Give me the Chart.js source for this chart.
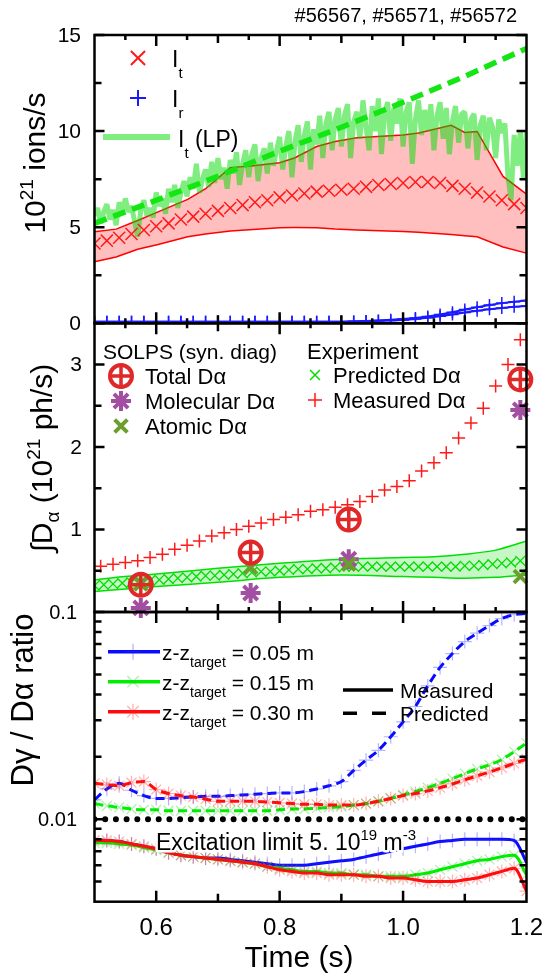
<!DOCTYPE html>
<html>
<head>
<meta charset="utf-8">
<script src="https://cdn.jsdelivr.net/npm/chart.js@4.4.1/dist/chart.umd.min.js"></script>
<style>
  html, body { margin: 0; padding: 0; background: #fff; }
  #wrap { position: relative; width: 548px; height: 980px; overflow: hidden; }
  canvas { position: absolute; left: 0; }
</style>
</head>
<body>
<div id="wrap">
  <canvas id="ions" width="548" height="340" style="top:0px"></canvas>
  <canvas id="dalpha" width="548" height="330" style="top:300px"></canvas>
  <canvas id="ratio" width="548" height="390" style="top:590px"></canvas>
</div>
<script>
// ---------- data ----------
const shots = '#56567, #56571, #56572';

// top panel: ion fluxes (10^21 ions/s)
const fluxTimes = [0.50, 0.52, 0.54, 0.56, 0.58, 0.60, 0.62, 0.64, 0.66, 0.68, 0.70, 0.72, 0.74, 0.76, 0.78, 0.80, 0.82, 0.84,
  0.86, 0.88, 0.90, 0.92, 0.94, 0.96, 0.98, 1.00, 1.02, 1.04, 1.06, 1.08, 1.10, 1.12, 1.14, 1.16, 1.18, 1.20];
const itValues = [4.15, 4.3, 4.45, 4.65, 4.85, 5.05, 5.2, 5.4, 5.55, 5.7, 5.85, 6.0, 6.15, 6.3, 6.4, 6.55, 6.65, 6.75,
  6.85, 6.9, 6.95, 7.0, 7.1, 7.2, 7.25, 7.3, 7.35, 7.35, 7.3, 7.15, 7.0, 6.8, 6.6, 6.4, 6.2, 6.0];
const irLow = [0.08, 0.08, 0.08, 0.08, 0.08, 0.08, 0.08, 0.08, 0.08, 0.08, 0.08, 0.08, 0.08, 0.08, 0.08, 0.08, 0.08, 0.08,
  0.08, 0.08, 0.08, 0.09, 0.11, 0.13, 0.15, 0.17, 0.22, 0.29, 0.37, 0.46, 0.56, 0.65, 0.73, 0.80, 0.86, 0.90];
const irHigh = [0.08, 0.08, 0.08, 0.08, 0.08, 0.08, 0.08, 0.08, 0.08, 0.08, 0.08, 0.08, 0.08, 0.08, 0.08, 0.08, 0.08, 0.08,
  0.08, 0.08, 0.08, 0.10, 0.12, 0.15, 0.18, 0.22, 0.28, 0.36, 0.46, 0.57, 0.72, 0.84, 0.95, 1.05, 1.12, 1.18];
const itBandTimes = [0.5, 0.535, 0.57, 0.603, 0.651, 0.68, 0.72, 0.757, 0.8, 0.824, 0.86, 0.89, 0.925, 1.0, 1.025, 1.078, 1.1, 1.12, 1.162, 1.2];
const itUpper = [4.76, 4.9, 5.35, 5.8, 6.45, 7.0, 8.1, 8.2, 8.35, 8.6, 9.2, 9.46, 9.65, 9.8, 9.9, 10.3, 9.93, 9.98, 7.64, 6.72];
const itLower = [3.2, 3.45, 3.85, 4.1, 4.5, 4.65, 4.8, 4.88, 4.97, 4.98, 4.97, 4.9, 4.86, 4.78, 4.74, 4.62, 4.55, 4.5, 3.97, 3.65];
const lpTimes = [
  0.500, 0.505, 0.510, 0.515, 0.520, 0.525, 0.530, 0.535, 0.540, 0.545,
  0.550, 0.555, 0.560, 0.565, 0.570, 0.575, 0.580, 0.585, 0.590, 0.595,
  0.600, 0.605, 0.610, 0.615, 0.620, 0.625, 0.630, 0.635, 0.640, 0.645,
  0.650, 0.655, 0.660, 0.665, 0.670, 0.675, 0.680, 0.685, 0.690, 0.695,
  0.700, 0.705, 0.710, 0.715, 0.720, 0.725, 0.730, 0.735, 0.740, 0.745,
  0.750, 0.755, 0.760, 0.765, 0.770, 0.775, 0.780, 0.785, 0.790, 0.795,
  0.800, 0.805, 0.810, 0.815, 0.820, 0.825, 0.830, 0.835, 0.840, 0.845,
  0.850, 0.855, 0.860, 0.865, 0.870, 0.875, 0.880, 0.885, 0.890, 0.895,
  0.900, 0.905, 0.910, 0.915, 0.920, 0.925, 0.930, 0.935, 0.940, 0.945,
  0.950, 0.955, 0.960, 0.965, 0.970, 0.975, 0.980, 0.985, 0.990, 0.995,
  1.000, 1.005, 1.010, 1.015, 1.020, 1.025, 1.030, 1.035, 1.040, 1.045,
  1.050, 1.055, 1.060, 1.065, 1.070, 1.075, 1.080, 1.085, 1.090, 1.095,
  1.100, 1.105, 1.110, 1.115, 1.120, 1.125, 1.130, 1.135, 1.140, 1.145,
  1.150, 1.155, 1.160, 1.165, 1.170, 1.175, 1.180, 1.185, 1.190, 1.195,
  1.200];
const lpValues = [
  5.6, 6.0, 5.2, 5.8, 6.2, 5.4, 5.9, 5.1, 6.3, 5.7,
  6.5, 5.8, 6.1, 5.3, 4.5, 5.9, 6.4, 5.6, 6.0, 5.5,
  6.8, 6.1, 6.5, 5.7, 7.0, 6.3, 7.2, 6.0, 6.8, 7.4,
  6.6, 7.6, 7.0, 8.3, 6.8, 7.5, 8.0, 7.1, 8.4, 7.3,
  8.6, 7.5, 8.1, 7.0, 8.5, 7.8, 8.9, 7.2, 8.3, 9.0,
  7.6, 8.8, 9.3, 7.4, 8.6, 9.1, 7.8, 9.4, 8.2, 9.0,
  9.7, 8.0, 9.2, 10.0, 7.6, 9.5, 10.3, 8.4, 9.8, 10.5,
  8.0, 10.1, 9.3, 10.8, 8.6, 10.4, 11.0, 9.0, 10.6, 11.2,
  9.2, 10.8, 11.4, 8.6, 10.5, 11.0, 9.6, 11.6, 10.2, 9.0,
  11.3, 10.0, 11.7, 8.8, 10.9, 11.5, 9.5, 11.2, 10.4, 11.7,
  9.2, 11.0, 11.5, 8.3, 10.6, 11.6, 9.8, 11.1, 10.0, 11.4,
  9.0, 10.8, 11.5, 9.6, 11.2, 8.8, 10.5, 11.3, 9.4, 10.9,
  11.0, 9.1, 10.6, 10.9, 8.5, 10.3, 10.8, 9.0, 10.7, 10.2,
  8.6, 10.6, 9.9, 10.4, 7.6, 6.4, 9.8, 8.2, 10.0, 7.5,
  10.0];
const trendTimes = [0.5, 0.6, 0.7, 0.8, 0.9, 1.0, 1.1, 1.2];
const trendValues = [5.2, 6.4, 7.65, 8.95, 10.2, 11.5, 12.85, 14.3];

// middle panel: integrated D-alpha (10^21 ph/s)
const measTimes = [0.51, 0.53, 0.55, 0.57, 0.59, 0.61, 0.63, 0.65, 0.67, 0.69, 0.71, 0.73, 0.75, 0.77, 0.79, 0.81, 0.83, 0.85,
  0.87, 0.89, 0.91, 0.93, 0.95, 0.97, 0.99, 1.01, 1.03, 1.05, 1.07, 1.09, 1.11, 1.13, 1.15, 1.17, 1.19];
const measValues = [0.555, 0.58, 0.60, 0.62, 0.66, 0.70, 0.76, 0.81, 0.86, 0.92, 0.96, 1.00, 1.04, 1.08, 1.12, 1.15, 1.18, 1.22,
  1.24, 1.27, 1.30, 1.34, 1.40, 1.48, 1.52, 1.59, 1.71, 1.81, 1.93, 2.11, 2.29, 2.47, 2.74, 3.00, 3.30];
const predTimes = [0.500, 0.515, 0.530, 0.545, 0.560, 0.575, 0.590, 0.605, 0.620, 0.635, 0.650, 0.665, 0.680, 0.695, 0.710, 0.725,
  0.740, 0.755, 0.770, 0.785, 0.800, 0.815, 0.830, 0.845, 0.860, 0.875, 0.890, 0.905, 0.920, 0.935, 0.950, 0.965, 0.980, 0.995,
  1.010, 1.025, 1.040, 1.055, 1.070, 1.085, 1.100, 1.115, 1.130, 1.145, 1.160, 1.175, 1.190];
const predValues = [0.32, 0.33, 0.34, 0.35, 0.36, 0.37, 0.38, 0.39, 0.40, 0.41, 0.42, 0.43, 0.44, 0.44, 0.45, 0.46,
  0.47, 0.48, 0.49, 0.49, 0.50, 0.51, 0.52, 0.52, 0.53, 0.53, 0.54, 0.55, 0.55, 0.55, 0.55, 0.55, 0.55, 0.55,
  0.55, 0.55, 0.55, 0.55, 0.55, 0.55, 0.56, 0.56, 0.57, 0.58, 0.59, 0.60, 0.62];
const predBandTimes = [0.5, 0.55, 0.6, 0.7, 0.8, 0.9, 1.0, 1.05, 1.1, 1.15, 1.2];
const predUpper = [0.39, 0.43, 0.46, 0.53, 0.59, 0.64, 0.66, 0.67, 0.70, 0.75, 0.86];
const predLower = [0.25, 0.28, 0.31, 0.36, 0.42, 0.45, 0.43, 0.42, 0.41, 0.42, 0.45];
const solpsTimes = [0.575, 0.753, 0.912, 1.19];
const totalDa = [0.33, 0.72, 1.12, 2.82];
const molecularDa = [0.05, 0.23, 0.64, 2.45];
const atomicDa = [0.34, 0.54, 0.58, 0.43];

// bottom panel: D-gamma / D-alpha ratio
const ratioTimes = fluxTimes;
const pred005 = [0.0124, 0.0140, 0.0149, 0.0138, 0.0130, 0.0126, 0.0126, 0.0127, 0.0128, 0.0129, 0.0129, 0.0130, 0.0131, 0.0132,
  0.0133, 0.0134, 0.0134, 0.0136, 0.0140, 0.0145, 0.0152, 0.0172, 0.0193, 0.0215, 0.0250, 0.0295, 0.0350, 0.0440, 0.0540,
  0.0630, 0.0720, 0.0790, 0.0860, 0.0930, 0.0970, 0.0985];
const pred015 = [0.0119, 0.0116, 0.0114, 0.0112, 0.0111, 0.0111, 0.0110, 0.0110, 0.0110, 0.0110, 0.0110, 0.0110, 0.0110, 0.0110,
  0.0110, 0.0111, 0.0112, 0.0112, 0.0113, 0.0114, 0.0115, 0.0117, 0.0119, 0.0122, 0.0126, 0.0131, 0.0136, 0.0142, 0.0149,
  0.0157, 0.0166, 0.0175, 0.0183, 0.0194, 0.0212, 0.0233];
const pred030 = [0.0149, 0.0147, 0.0145, 0.0150, 0.0152, 0.0139, 0.0133, 0.0130, 0.0128, 0.0125, 0.0122, 0.0122, 0.0122, 0.0122,
  0.0121, 0.0120, 0.0119, 0.0118, 0.0118, 0.0117, 0.0117, 0.0117, 0.0119, 0.0122, 0.0126, 0.0130, 0.0133, 0.0137, 0.0142,
  0.0148, 0.0155, 0.0162, 0.0169, 0.0177, 0.0186, 0.0195];
const meas005 = [0.0080, 0.0079, 0.0078, 0.0076, 0.0074, 0.0072, 0.0069, 0.0067, 0.0066, 0.0065, 0.0065, 0.0064, 0.0063, 0.0062,
  0.0061, 0.0060, 0.0060, 0.0060, 0.0061, 0.0062, 0.0063, 0.0064, 0.0066, 0.0068, 0.0070, 0.0072, 0.0074, 0.0076, 0.0078,
  0.0079, 0.0080, 0.0080, 0.0080, 0.0080, 0.0079, 0.0062];
const meas015 = [0.0077, 0.0077, 0.0076, 0.0075, 0.0073, 0.0071, 0.0069, 0.0067, 0.0066, 0.0065, 0.0064, 0.0063, 0.0062, 0.0061,
  0.0059, 0.0058, 0.0057, 0.0056, 0.0056, 0.0055, 0.0055, 0.0054, 0.0054, 0.0053, 0.0053, 0.0053, 0.0054, 0.0055, 0.0057,
  0.0059, 0.0061, 0.0063, 0.0064, 0.0066, 0.0067, 0.0054];
const meas030 = [0.0079, 0.0079, 0.0078, 0.0076, 0.0074, 0.0072, 0.0069, 0.0067, 0.0066, 0.0065, 0.0064, 0.0063, 0.0062, 0.0061,
  0.0059, 0.0057, 0.0056, 0.0055, 0.0055, 0.0054, 0.0054, 0.0054, 0.0053, 0.0053, 0.0052, 0.0052, 0.0051, 0.0050, 0.0050,
  0.0050, 0.0051, 0.0052, 0.0054, 0.0056, 0.0058, 0.0045];
const excitationLimit = 0.01;

// ticks
const xMajorTicks = [0.6, 0.8, 1.0];
const xMidTicks = [0.7, 0.9, 1.1];
const xHalfTicks = [0.55, 0.65, 0.75, 0.85, 0.95, 1.05, 1.15];
const xLabelValues = [0.6, 0.8, 1.0, 1.2];
const xLabelTexts = ['0.6', '0.8', '1.0', '1.2'];
const ionLabelValues = [0, 5, 10, 15];
const ionMinorTicks = [2.5, 7.5, 12.5];
const daLabelValues = [1, 2, 3];
const daMinorTicks = [0.5, 1.5, 2.5];
const ratioLabelValues = [0.01, 0.1];
const ratioLabelTexts = ['0.01', '0.1'];
const ratioMinorTicks = [0.005, 0.006, 0.007, 0.008, 0.009, 0.02, 0.03, 0.04, 0.05, 0.06, 0.07, 0.08, 0.09];

// ---------- helpers ----------
const FAMILY = "'Liberation Sans', Arial, sans-serif";
const font = (size) => size + 'px ' + FAMILY;
const pts = (xs, ys) => xs.map((x, i) => ({ x: x, y: ys[i] }));

function drawRich(ctx, parts, x, y, align, halo) {
  let w = 0;
  parts.forEach(p => { ctx.font = font(p.size); w += ctx.measureText(p.text).width; });
  const start = align === 'center' ? x - w / 2 : (align === 'right' ? x - w : x);
  ctx.textAlign = 'left';
  ctx.textBaseline = 'alphabetic';
  const pass = (fill) => {
    let cx = start;
    parts.forEach(p => {
      ctx.font = font(p.size);
      if (fill) {
        ctx.fillStyle = '#000';
        ctx.fillText(p.text, cx, y + (p.dy || 0));
      } else {
        ctx.strokeStyle = '#fff';
        ctx.lineWidth = halo;
        ctx.lineJoin = 'round';
        ctx.strokeText(p.text, cx, y + (p.dy || 0));
      }
      cx += ctx.measureText(p.text).width;
    });
  };
  if (halo) pass(false);
  pass(true);
}

function rotatedTitle(ctx, parts, x, y) {
  ctx.save();
  ctx.translate(x, y);
  ctx.rotate(-Math.PI / 2);
  drawRich(ctx, parts, 0, 0, 'center');
  ctx.restore();
}

function marker(ctx, style, x, y, r, color, lw) {
  ctx.save();
  ctx.strokeStyle = color;
  ctx.lineWidth = lw;
  ctx.beginPath();
  if (style === 'cross' || style === 'star') {
    ctx.moveTo(x - r, y); ctx.lineTo(x + r, y);
    ctx.moveTo(x, y - r); ctx.lineTo(x, y + r);
  }
  if (style === 'crossRot' || style === 'star') {
    const d = r * Math.SQRT1_2;
    ctx.moveTo(x - d, y - d); ctx.lineTo(x + d, y + d);
    ctx.moveTo(x - d, y + d); ctx.lineTo(x + d, y - d);
  }
  if (style === 'circle') ctx.arc(x, y, r, 0, Math.PI * 2);
  ctx.stroke();
  ctx.restore();
}

function drawFrame(chart, yMajor, yMinor, halfTicks) {
  const { ctx, chartArea: a } = chart;
  const xs = chart.scales.x, ys = chart.scales.y;
  ctx.save();
  ctx.strokeStyle = '#000';
  ctx.lineWidth = 2.5;
  ctx.beginPath();
  const xt = (v, len) => {
    const px = xs.getPixelForValue(v);
    ctx.moveTo(px, a.top); ctx.lineTo(px, a.top + len);
    ctx.moveTo(px, a.bottom); ctx.lineTo(px, a.bottom - len);
  };
  const yt = (v, len) => {
    const py = ys.getPixelForValue(v);
    ctx.moveTo(a.left, py); ctx.lineTo(a.left + len, py);
    ctx.moveTo(a.right, py); ctx.lineTo(a.right - len, py);
  };
  xMajorTicks.forEach(v => xt(v, 11));
  xMidTicks.forEach(v => xt(v, 8));
  if (halfTicks) xHalfTicks.forEach(v => xt(v, 5));
  yMajor.forEach(v => yt(v, 10));
  yMinor.forEach(v => yt(v, 7));
  ctx.stroke();
  ctx.strokeRect(a.left, a.top, a.right - a.left, a.bottom - a.top);
  ctx.restore();
}

function yLabels(chart, values, texts, x, size) {
  const ctx = chart.ctx, ys = chart.scales.y;
  ctx.save();
  ctx.fillStyle = '#000';
  ctx.font = font(size);
  ctx.textAlign = 'right';
  ctx.textBaseline = 'middle';
  values.forEach((v, i) => ctx.fillText(texts[i], x, ys.getPixelForValue(v) + 1));
  ctx.restore();
}

function baseOptions(padding, yScale) {
  return {
    responsive: false,
    animation: false,
    devicePixelRatio: 1,
    layout: { padding: padding },
    plugins: { legend: { display: false }, tooltip: { enabled: false } },
    scales: {
      x: { type: 'linear', min: 0.5, max: 1.2, display: false },
      y: Object.assign({ display: false }, yScale)
    }
  };
}

const PLOT_LEFT = 94.5, PLOT_RIGHT = 526.5;
const sidePad = { left: PLOT_LEFT, right: 548 - PLOT_RIGHT };

// ---------- top panel ----------
const ionsDecor = {
  id: 'ionsDecor',
  afterDraw(chart) {
    const ctx = chart.ctx;
    drawFrame(chart, ionLabelValues, ionMinorTicks, true);
    yLabels(chart, ionLabelValues, ionLabelValues.map(String), 81, 21);
    rotatedTitle(ctx, [{ text: '10', size: 30 }, { text: '21', size: 19, dy: -12 }, { text: ' ions/s', size: 30 }], 45, 163);
    drawRich(ctx, [{ text: shots, size: 20 }], 517, 22, 'right');
    // legend
    marker(ctx, 'crossRot', 138, 58, 10, '#ff1a1a', 2);
    drawRich(ctx, [{ text: 'I', size: 23 }, { text: 't', size: 15, dy: 11 }], 172, 67, 'left');
    marker(ctx, 'cross', 138, 98, 8, '#1a1aff', 2);
    drawRich(ctx, [{ text: 'I', size: 23 }, { text: 'r', size: 15, dy: 11 }], 172, 107, 'left');
    ctx.save();
    ctx.strokeStyle = 'rgba(0,220,0,0.5)';
    ctx.lineWidth = 6;
    ctx.beginPath(); ctx.moveTo(103, 137); ctx.lineTo(170, 137); ctx.stroke();
    ctx.restore();
    drawRich(ctx, [{ text: 'I', size: 23 }, { text: 't', size: 15, dy: 11 }, { text: ' (LP)', size: 23 }], 178, 147, 'left');
  }
};

new Chart(document.getElementById('ions'), {
  type: 'line',
  data: {
    datasets: [
      { data: pts(fluxTimes, itValues), showLine: false, pointStyle: 'crossRot', pointRadius: 8.5,
        pointBorderWidth: 1.5, borderColor: '#ff1a1a', order: 1, clip: 0 },
      { data: pts(trendTimes, trendValues), borderColor: '#14e614', borderWidth: 5.5, borderDash: [13, 7],
        pointRadius: 0, order: 2, clip: 0 },
      { data: pts(lpTimes, lpValues), borderColor: 'rgba(0,220,0,0.5)', borderWidth: 5, borderJoinStyle: 'bevel',
        pointRadius: 0, order: 3, clip: 0 },
      { data: pts(fluxTimes, irHigh), borderColor: '#1a1aff', borderWidth: 2, pointStyle: 'cross', pointRadius: 6,
        pointBorderWidth: 1.5, order: 4, clip: 0 },
      { data: pts(fluxTimes, irLow), borderColor: '#1a1aff', borderWidth: 2, pointStyle: 'cross', pointRadius: 6,
        pointBorderWidth: 1.5, order: 4, clip: 0 },
      { data: pts(itBandTimes, itUpper), borderColor: '#ff0000', borderWidth: 1.5, pointRadius: 0,
        fill: '+1', backgroundColor: 'rgba(255,0,0,0.25)', order: 5, clip: 0 },
      { data: pts(itBandTimes, itLower), borderColor: '#ff0000', borderWidth: 1.5, pointRadius: 0, order: 6, clip: 0 }
    ]
  },
  options: baseOptions(Object.assign({ top: 35, bottom: 340 - 323.3 }, sidePad), { min: 0, max: 15 }),
  plugins: [ionsDecor]
});

// ---------- middle panel ----------
const OFF_B = 300;
const dalphaDecor = {
  id: 'dalphaDecor',
  afterDraw(chart) {
    const ctx = chart.ctx;
    drawFrame(chart, daLabelValues, daMinorTicks, true);
    yLabels(chart, daLabelValues, daLabelValues.map(String), 82, 21);
    ctx.save();
    ctx.translate(0, -OFF_B);
    rotatedTitle(ctx, [{ text: '\u222BD', size: 30 }, { text: '\u03B1', size: 19, dy: 7 }, { text: ' (10', size: 30 },
      { text: '21', size: 19, dy: -12 }, { text: ' ph/s)', size: 30 }], 52, 458);
    drawRich(ctx, [{ text: 'SOLPS (syn. diag)', size: 21 }], 103, 359, 'left');
    marker(ctx, 'circle', 121, 376, 11, '#e02828', 4);
    marker(ctx, 'cross', 121, 376, 11, '#e02828', 3.5);
    drawRich(ctx, [{ text: 'Total D\u03B1', size: 22 }], 145, 384, 'left');
    marker(ctx, 'star', 121, 401, 10, '#a24fa2', 4);
    drawRich(ctx, [{ text: 'Molecular D\u03B1', size: 22 }], 145, 409, 'left');
    marker(ctx, 'crossRot', 121, 426, 9, '#6c9e2e', 4);
    drawRich(ctx, [{ text: 'Atomic D\u03B1', size: 22 }], 145, 434, 'left');
    drawRich(ctx, [{ text: 'Experiment', size: 22 }], 307, 359, 'left');
    marker(ctx, 'crossRot', 315, 375, 7, '#00dd00', 1.5);
    drawRich(ctx, [{ text: 'Predicted D\u03B1', size: 22 }], 333, 383, 'left');
    marker(ctx, 'cross', 315, 400, 7, '#ff1a1a', 1.5);
    drawRich(ctx, [{ text: 'Measured D\u03B1', size: 22 }], 333, 408, 'left');
    ctx.restore();
  }
};

new Chart(document.getElementById('dalpha'), {
  type: 'line',
  data: {
    datasets: [
      { data: pts(solpsTimes, totalDa), showLine: false, pointStyle: 'circle', pointRadius: 11, pointBorderWidth: 4,
        borderColor: '#e02828', backgroundColor: 'rgba(0,0,0,0)', order: 1, clip: false },
      { data: pts(solpsTimes, totalDa), showLine: false, pointStyle: 'cross', pointRadius: 11, pointBorderWidth: 3.5,
        borderColor: '#e02828', order: 1, clip: false },
      { data: pts(solpsTimes, atomicDa), showLine: false, pointStyle: 'crossRot', pointRadius: 9, pointBorderWidth: 4,
        borderColor: '#6c9e2e', order: 2, clip: false },
      { data: pts(solpsTimes, molecularDa), showLine: false, pointStyle: 'star', pointRadius: 10, pointBorderWidth: 4,
        borderColor: '#a24fa2', order: 3, clip: false },
      { data: pts(measTimes, measValues), showLine: false, pointStyle: 'cross', pointRadius: 6.5, pointBorderWidth: 1.5,
        borderColor: '#ff1a1a', order: 4, clip: 0 },
      { data: pts(predTimes, predValues), showLine: false, pointStyle: 'crossRot', pointRadius: 7, pointBorderWidth: 1.3,
        borderColor: '#00dd00', order: 5, clip: 0 },
      { data: pts(predBandTimes, predUpper), borderColor: '#00e000', borderWidth: 1.5, pointRadius: 0, tension: 0.3,
        fill: '+1', backgroundColor: 'rgba(0,220,0,0.22)', order: 6, clip: 0 },
      { data: pts(predBandTimes, predLower), borderColor: '#00e000', borderWidth: 1.5, pointRadius: 0, tension: 0.3,
        order: 7, clip: 0 }
    ]
  },
  options: baseOptions(Object.assign({ top: 23.3, bottom: 18 }, sidePad), { min: 0, max: 3.5 }),
  plugins: [dalphaDecor]
});

// ---------- bottom panel ----------
const OFF_C = 590;
const BLUE = '#0a0aff', GREEN = '#00ee00', RED = '#ff0a0a';
const BLUE_M = 'rgba(40,40,255,0.35)', GREEN_M = 'rgba(0,220,0,0.35)', RED_M = 'rgba(255,30,30,0.35)';

function ratioLine(values, color, markColor, style, dashed, order) {
  return {
    data: pts(ratioTimes, values), borderColor: color, borderWidth: 3, borderDash: dashed ? [9, 5] : [],
    cubicInterpolationMode: 'monotone', pointStyle: style, pointRadius: 7, pointBorderWidth: 1.2,
    pointBorderColor: markColor, pointBackgroundColor: 'rgba(0,0,0,0)', order: order, clip: 0
  };
}

const ratioDecor = {
  id: 'ratioDecor',
  afterDatasetsDraw(chart) {
    const ctx = chart.ctx;
    ctx.save();
    ctx.translate(0, -OFF_C);
    drawRich(ctx, [{ text: 'Excitation limit 5. 10', size: 23 }, { text: '19', size: 15, dy: -10 },
      { text: ' m', size: 23 }, { text: '-3', size: 15, dy: -10 }], 156, 850, 'left', 5);
    ctx.restore();
  },
  afterDraw(chart) {
    const ctx = chart.ctx;
    drawFrame(chart, ratioLabelValues, ratioMinorTicks, false);
    yLabels(chart, ratioLabelValues, ratioLabelTexts, 77, 20);
    const xs = chart.scales.x;
    ctx.save();
    ctx.translate(0, -OFF_C);
    xLabelValues.forEach((v, i) => drawRich(ctx, [{ text: xLabelTexts[i], size: 24 }], xs.getPixelForValue(v), 935, 'center'));
    drawRich(ctx, [{ text: 'Time (s)', size: 30 }], 299, 967, 'center');
    rotatedTitle(ctx, [{ text: 'D\u03B3 / D\u03B1 ratio', size: 31 }], 33, 700);
    // legend
    const rows = [[651.7, BLUE, BLUE_M, 'cross', '0.05'], [681.7, GREEN, GREEN_M, 'crossRot', '0.15'], [711.7, RED, RED_M, 'star', '0.30']];
    rows.forEach(r => {
      ctx.save();
      ctx.strokeStyle = r[1]; ctx.lineWidth = 3.5;
      ctx.beginPath(); ctx.moveTo(108, r[0]); ctx.lineTo(160, r[0]); ctx.stroke();
      ctx.restore();
      marker(ctx, r[3], 133, r[0], 8, r[2], 1.3);
      drawRich(ctx, [{ text: 'z-z', size: 21 }, { text: 'target', size: 14, dy: 7 }, { text: ' = ' + r[4] + ' m', size: 21 }],
        162, r[0] + 8, 'left');
    });
    ctx.save();
    ctx.strokeStyle = '#000'; ctx.lineWidth = 3.5;
    ctx.beginPath(); ctx.moveTo(343, 690); ctx.lineTo(393, 690); ctx.stroke();
    ctx.beginPath(); ctx.moveTo(343, 713.3); ctx.lineTo(357, 713.3); ctx.moveTo(372, 713.3); ctx.lineTo(386, 713.3); ctx.stroke();
    ctx.restore();
    drawRich(ctx, [{ text: 'Measured', size: 21 }], 400, 697.5, 'left');
    drawRich(ctx, [{ text: 'Predicted', size: 21 }], 400, 721, 'left');
    ctx.restore();
  }
};

new Chart(document.getElementById('ratio'), {
  type: 'line',
  data: {
    datasets: [
      { data: pts([0.5, 1.2], [excitationLimit, excitationLimit]), borderColor: '#000', borderWidth: 6,
        borderDash: [0, 10.7], borderCapStyle: 'round', pointRadius: 0, order: 0, clip: 0 },
      ratioLine(pred030, RED, RED_M, 'star', true, 1),
      ratioLine(pred015, GREEN, GREEN_M, 'crossRot', true, 2),
      ratioLine(pred005, BLUE, BLUE_M, 'cross', true, 3),
      ratioLine(meas030, RED, RED_M, 'star', false, 4),
      ratioLine(meas015, GREEN, GREEN_M, 'crossRot', false, 5),
      ratioLine(meas005, BLUE, BLUE_M, 'cross', false, 6)
    ]
  },
  options: baseOptions(Object.assign({ top: 22, bottom: 390 - 311.7 }, sidePad), { type: 'logarithmic', min: 0.004, max: 0.1 }),
  plugins: [ratioDecor]
});
</script>
</body>
</html>
